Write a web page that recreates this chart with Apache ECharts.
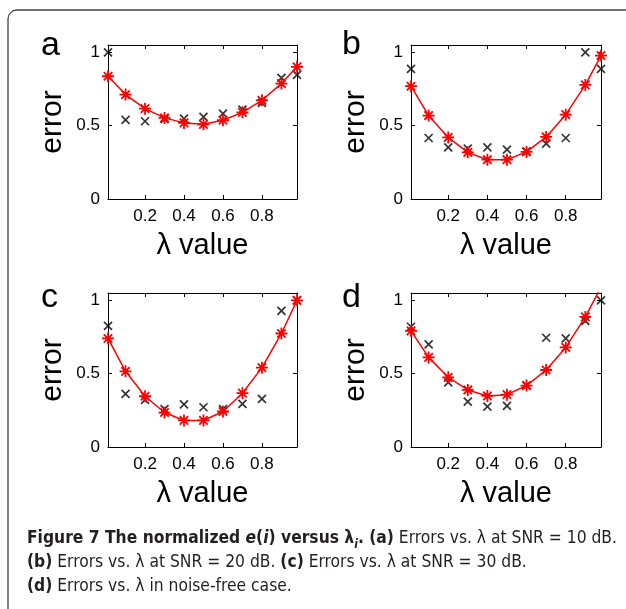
<!DOCTYPE html>
<html>
<head>
<meta charset="utf-8">
<script src="https://cdn.jsdelivr.net/npm/echarts@6/dist/echarts.min.js"></script>
<style>
  html, body { margin: 0; padding: 0; background: #fff; }
  #chart { width: 626px; height: 609px; }
</style>
</head>
<body>
<div id="chart"></div>
<script>
// lambda values sampled on every panel
const lambdaValues = [0.01, 0.1, 0.2, 0.3, 0.4, 0.5, 0.6, 0.7, 0.8, 0.9, 0.98]
const xTicks = [0.2, 0.4, 0.6, 0.8]
const yTicks = [0, 0.5, 1]
const panelNames = ['a', 'b', 'c', 'd']

// black x markers (measured error)
const measuredA = [1.0, 0.54, 0.53, 0.545, 0.548, 0.56, 0.582, 0.61, 0.655, 0.826, 0.846]
const measuredB = [0.887, 0.416, 0.352, 0.343, 0.352, 0.336, 0.325, 0.377, 0.416, 1.0, 0.887]
const measuredC = [0.826, 0.362, 0.321, 0.258, 0.29, 0.271, 0.258, 0.294, 0.328, 0.928, 1.0]
const measuredD = [0.82, 0.70, 0.44, 0.31, 0.275, 0.28, 0.42, 0.745, 0.74, 0.86, 1.0]

// red asterisk curve
const curveA = [0.837, 0.712, 0.616, 0.553, 0.519, 0.509, 0.537, 0.591, 0.673, 0.787, 0.901]
const curveB = [0.769, 0.569, 0.42, 0.318, 0.268, 0.268, 0.321, 0.423, 0.575, 0.778, 0.978]
const curveC = [0.74, 0.516, 0.346, 0.235, 0.181, 0.181, 0.242, 0.367, 0.541, 0.774, 1.0]
const curveD = [0.792, 0.611, 0.475, 0.389, 0.348, 0.357, 0.419, 0.525, 0.679, 0.887, 1.09]

const measured = [measuredA, measuredB, measuredC, measuredD]
const curves = [curveA, curveB, curveC, curveD]

const grids = [
  {left: 108, top: 45, width: 189, height: 154},
  {left: 411, top: 45, width: 190, height: 154},
  {left: 108, top: 293, width: 189, height: 154},
  {left: 411, top: 293, width: 190, height: 154}
]
const letterPos = [[41, 29], [342, 28], [41, 281], [342, 281]]

const plotFont = '"Liberation Sans", Arial, Helvetica, sans-serif'
const capFont = '"Liberation Sans Narrow", "DejaVu Sans Condensed", "Open Sans", sans-serif'
const asterisk = 'path://M0,5L10,5M5,0L5,10M1.5,1.5L8.5,8.5M8.5,1.5L1.5,8.5'
const cross = 'path://M0,0L10,10M10,0L0,10'

const zip = vals => lambdaValues.map((x, i) => [x, vals[i]])

const chart = echarts.init(document.getElementById('chart'), null, {renderer: 'canvas'})

const xAxes = []
const yAxes = []
const series = []
const titles = []

grids.forEach((g, i) => {
  const axisLine = {show: true, onZero: false, lineStyle: {color: '#000', width: 1}}
  xAxes.push({
    type: 'value', gridIndex: i, position: 'bottom', min: 0.01, max: 0.98,
    axisLine: axisLine, splitLine: {show: false},
    axisTick: {inside: true, length: 4, customValues: xTicks, lineStyle: {color: '#000'}},
    axisLabel: {customValues: xTicks, margin: 9, fontSize: 17, fontFamily: plotFont, color: '#000'},
    name: 'λ value', nameLocation: 'middle', nameGap: 32,
    nameTextStyle: {fontSize: 29, fontFamily: plotFont, color: '#000'}
  })
  xAxes.push({
    type: 'value', gridIndex: i, position: 'top', min: 0.01, max: 0.98,
    axisLine: axisLine, splitLine: {show: false},
    axisTick: {inside: true, length: 4, customValues: xTicks, lineStyle: {color: '#000'}},
    axisLabel: {show: false}
  })
  yAxes.push({
    type: 'value', gridIndex: i, position: 'left', min: 0, max: 1.05,
    axisLine: axisLine, splitLine: {show: false},
    axisTick: {inside: true, length: 4, customValues: yTicks, lineStyle: {color: '#000'}},
    axisLabel: {customValues: yTicks, margin: 8, fontSize: 17, fontFamily: plotFont, color: '#000'},
    name: 'error', nameLocation: 'middle', nameGap: 40,
    nameTextStyle: {fontSize: 30, fontFamily: plotFont, color: '#000'}
  })
  yAxes.push({
    type: 'value', gridIndex: i, position: 'right', min: 0, max: 1.05,
    axisLine: axisLine, splitLine: {show: false},
    axisTick: {inside: true, length: 4, customValues: yTicks, lineStyle: {color: '#000'}},
    axisLabel: {show: false}
  })

  series.push({
    type: 'scatter', xAxisIndex: 2 * i, yAxisIndex: 2 * i,
    data: zip(measured[i]), symbol: cross, symbolSize: 8,
    itemStyle: {color: '#000', borderColor: '#000', borderWidth: 1.7},
    silent: true, z: 3
  })
  series.push({
    type: 'line', xAxisIndex: 2 * i, yAxisIndex: 2 * i,
    data: zip(curves[i]), symbol: asterisk, symbolSize: 12, showSymbol: true,
    lineStyle: {color: '#ff0000', width: 1.5},
    itemStyle: {color: '#ff0000', borderColor: '#ff0000', borderWidth: 1.8},
    clip: true, silent: true, animation: false, z: 4
  })

  titles.push({
    text: panelNames[i], left: letterPos[i][0], top: letterPos[i][1], padding: 0,
    textStyle: {fontSize: 34, fontWeight: 'normal', fontFamily: plotFont, color: '#000'}
  })
})

const capBase = {fontFamily: capFont, fontSize: 17.3, lineHeight: 24, color: '#231f20'}
titles.push({
  left: 27, top: 527, padding: 0,
  text: '{b|Figure 7 The normalized }{bi|e}{b|(}{bi|i}{b|) versus λ}{sub|i}{b|. (a)}{n| Errors vs. λ at SNR = 10 dB.}\n' +
        '{b|(b)}{n| Errors vs. λ at SNR = 20 dB. }{b|(c)}{n| Errors vs. λ at SNR = 30 dB.}\n' +
        '{b|(d)}{n| Errors vs. λ in noise-free case.}',
  textStyle: Object.assign({}, capBase, {
    fontWeight: 'normal',
    rich: {
      n: Object.assign({}, capBase),
      b: Object.assign({}, capBase, {fontWeight: 'bold'}),
      bi: Object.assign({}, capBase, {fontWeight: 'bold', fontStyle: 'italic'}),
      sub: Object.assign({}, capBase, {fontWeight: 'bold', fontStyle: 'italic', fontSize: 12, verticalAlign: 'bottom', padding: [6, 0, 0, 0]})
    }
  })
})

chart.setOption({
  animation: false,
  backgroundColor: '#fff',
  title: titles,
  grid: grids,
  xAxis: xAxes,
  yAxis: yAxes,
  series: series,
  graphic: [{
    type: 'rect', silent: true,
    shape: {x: 8, y: 10, width: 720, height: 720, r: [9, 0, 0, 0]},
    style: {fill: 'none', stroke: '#444', lineWidth: 1.3}
  }]
})
</script>
</body>
</html>
